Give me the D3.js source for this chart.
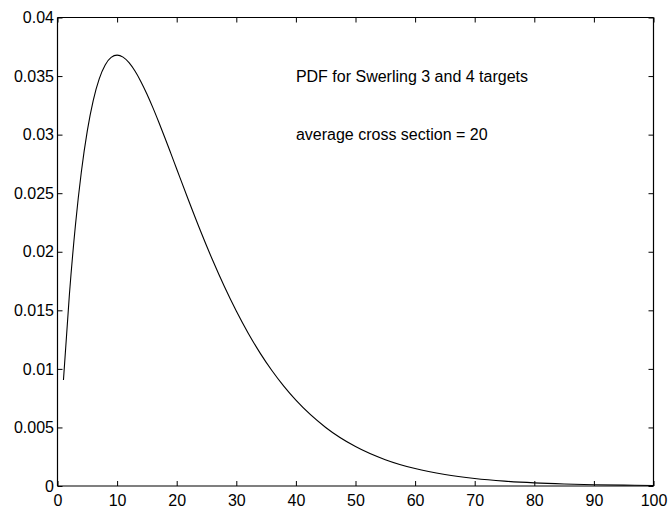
<!DOCTYPE html>
<html>
<head>
<meta charset="utf-8">
<script src="https://cdn.jsdelivr.net/npm/d3@7"></script>
<style>
  html, body { margin: 0; padding: 0; background: #fff; }
  svg { display: block; }
  text { font-family: "Liberation Sans", Arial, Helvetica, sans-serif; fill: #000; }
</style>
</head>
<body>
<svg id="chart" width="670" height="514"></svg>
<script>
// Radar cross section values (sigma) and their probability density
const sigmaValues = [1, 2, 3, 4, 5, 6, 7, 8, 9, 10, 11, 12, 13, 14, 15, 16, 17, 18, 19, 20,
  22, 24, 26, 28, 30, 32, 34, 36, 38, 40, 45, 50, 55, 60, 65, 70, 75, 80, 85, 90, 95, 100];
const pdfValues = [0.009048, 0.016375, 0.022225, 0.026813, 0.030327, 0.032929, 0.034761,
  0.035946, 0.036591, 0.036788, 0.036616, 0.036143, 0.035429, 0.034524, 0.033470, 0.032303,
  0.031056, 0.029754, 0.028418, 0.027067, 0.024377, 0.021772, 0.019311, 0.017027, 0.014936,
  0.013044, 0.011347, 0.009837, 0.008501, 0.007326, 0.004999, 0.003369, 0.002248, 0.001487,
  0.000977, 0.000638, 0.000415, 0.000268, 0.000173, 0.000111, 0.0000711, 0.0000454];

const xTicks = [0, 10, 20, 30, 40, 50, 60, 70, 80, 90, 100];
const yTicks = [0, 0.005, 0.01, 0.015, 0.02, 0.025, 0.03, 0.035, 0.04];
const yTickLabels = ["0", "0.005", "0.01", "0.015", "0.02", "0.025", "0.03", "0.035", "0.04"];

const annotations = [
  { x: 40, y: 0.035, text: "PDF for Swerling 3 and 4 targets" },
  { x: 40, y: 0.030, text: "average cross section = 20" }
];

const svg = d3.select("#chart");
const plotLeft = 57.5, plotRight = 653.5, plotTop = 17.5, plotBottom = 486;

const x = d3.scaleLinear().domain([0, 100]).range([plotLeft, plotRight]);
const y = d3.scaleLinear().domain([0, 0.04]).range([plotBottom, plotTop]);

const tickLen = 5;
const fontSize = 16;

// Axes with inward-pointing ticks on all four sides
const gBottom = svg.append("g").attr("transform", `translate(0,${plotBottom})`)
  .call(d3.axisBottom(x).tickValues(xTicks).tickSize(-tickLen).tickPadding(8.5).tickFormat(d3.format("d")));
const gTop = svg.append("g").attr("transform", `translate(0,${plotTop})`)
  .call(d3.axisTop(x).tickValues(xTicks).tickSize(-tickLen).tickFormat(""));
const gLeft = svg.append("g").attr("transform", `translate(${plotLeft},0)`)
  .call(d3.axisLeft(y).tickValues(yTicks).tickSize(-tickLen).tickPadding(3.5)
    .tickFormat((d, i) => yTickLabels[i]));
const gRight = svg.append("g").attr("transform", `translate(${plotRight},0)`)
  .call(d3.axisRight(y).tickValues(yTicks).tickSize(-tickLen).tickFormat(""));

[gBottom, gTop, gLeft, gRight].forEach(g => {
  g.select(".domain").attr("stroke", "#000").attr("stroke-width", 1.2);
  g.selectAll(".tick line").attr("stroke", "#000").attr("stroke-width", 1);
  g.selectAll(".tick text").attr("font-size", fontSize)
    .attr("font-family", "'Liberation Sans', Arial, Helvetica, sans-serif").attr("fill", "#000");
});
// plain frame lines without outer tick overhang
gBottom.select(".domain").attr("d", `M${plotLeft},0H${plotRight}`);
gTop.select(".domain").attr("d", `M${plotLeft},0H${plotRight}`);
gLeft.select(".domain").attr("d", `M0,${plotBottom}V${plotTop}`);
gRight.select(".domain").attr("d", `M0,${plotBottom}V${plotTop}`);

// PDF curve
const pts = sigmaValues.map((s, i) => [s, pdfValues[i]]);
const line = d3.line().x(d => x(d[0])).y(d => y(d[1])).curve(d3.curveMonotoneX);
svg.append("path").datum(pts)
  .attr("d", line)
  .attr("fill", "none")
  .attr("stroke", "#000")
  .attr("stroke-width", 1.1);

// Annotation text
svg.selectAll("text.note").data(annotations).enter().append("text")
  .attr("class", "note")
  .attr("x", d => x(d.x))
  .attr("y", d => y(d.y))
  .attr("dy", "0.35em")
  .attr("font-size", fontSize)
  .text(d => d.text);
</script>
</body>
</html>
